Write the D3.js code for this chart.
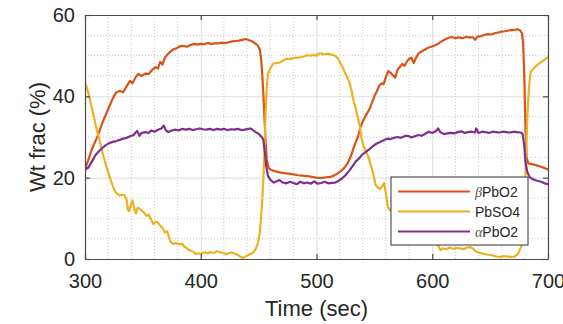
<!DOCTYPE html>
<html>
<head>
<meta charset="utf-8">
<script src="https://cdn.jsdelivr.net/npm/d3@7"></script>
<style>
  html, body { margin: 0; padding: 0; background: #fff; }
  svg { display: block; font-family: "Liberation Sans", Arial, Helvetica, sans-serif; }
</style>
</head>
<body>
<svg id="chart" width="563" height="324"></svg>
<script>
// Phase weight fractions (%) over time (sec)
const betaTime = [300,303,306,309,312,315,318,321,324,327,330,333,336,339,341,344,346,349,352,355,358,361,363,365,367,369,371,373,376,379,382,385,388,391,394,397,400,403,406,409,412,415,418,421,424,427,430,433,436,439,442,445,447,449,451,452,453,454,455,456,457,458.5,460,464,468,472,476,480,484,488,492,496,500,504,508,512,515,518,521,524,527,530,532,534,536,538,540,542,544,546,548,550,552,554,556,558,560,562,564,566,568,570,572,574,576,578,580,582,584,586,588,590,593,596,599,602,605,608,611,614,617,620,623,626,629,632,635,637,639,642,645,648,651,654,657,660,663,666,669,672,674,676,677.5,678.5,679.5,680.5,681.5,683,688,694,700];
const betaPbO2 = [22.0,24.5,27,29,31,33.5,35.5,37.5,39.5,41,41.3,41,42.5,43.8,43.2,44.8,45.5,45,45.6,45.5,46.5,47.2,46.8,48.5,47.8,49.5,50.2,50.8,51.5,51.8,52.3,52.4,52.2,52.6,52.9,52.7,52.9,52.8,53.1,52.9,53.0,53.0,53.2,53.1,53.3,53.5,53.6,53.7,53.9,54.1,53.8,53.4,53.0,52.6,51.5,49.5,46,41,35,29,24.5,22.5,22.0,21.6,21.3,21.1,21.0,20.8,20.6,20.5,20.4,20.2,20.0,19.9,20.1,20.2,20.5,21.0,21.6,22.4,23.6,25.5,27.3,28.8,30.2,32.5,33.8,35,36,37,38.5,40,41.2,42.5,43.2,43,44.8,46.2,45.8,45.2,44.6,46.5,47.2,48,47.5,48.5,49.2,49.5,48.2,49.5,50.5,50.9,51.4,51.9,52.2,52.5,52.9,53.5,54.0,54.4,54.6,54.3,54.5,54.3,54.6,54.5,54.5,53.9,54.7,54.8,55.1,55.3,55.2,55.5,55.7,55.9,56.0,56.2,56.3,56.4,56.5,56.2,55.5,53,45,33,25,23.5,23.2,22.7,22.0];

const sulfTime = [300,302,304,306,308,310,312,314,316,318,320,322,324,326,328,330,332,334,336,337,338,339.5,341,342.5,344,345.5,347,349,351,353,355,357,359,361,363,365,367,369,371,372.5,374,376,378,380,382,384,386,388,390,392,394,396,398,400,402,404,406,408,410,412,414,416,418,420,422,424,426,428,430,432,434,436,438,440,442,444,446,448,449.5,451,452,453,454,455,456,457,458,460,462.5,465,468,471,474,477,480,483,486,489,492,495,497,500,502,504,506,508,510,512,514,516,518,520,522,524,526,528,530,532,534,536,537.5,539,541,543,545,547,549,551,553,555,557,558.5,560,561.5,563,566,570,574,578,582,586,590,594,598,602,605,607,609,612,615,618,621,624,627,630,633,635,637,639,641,644,647,650,653,656,659,662,665,668,671,674,676,677.5,679,680,681,682,683.5,685,688,691,694,697,700];
const PbSO4 = [43.3,41.8,39.5,37,34.5,32,29.8,27.5,25.2,23.2,21.3,19.6,18.0,16.6,16.0,15.6,15.8,15.7,14.5,12.2,11.8,13.2,14.4,12.5,11.2,12.6,12.4,11.9,11.4,10.6,10.9,9.8,8.6,9.2,8.9,8.2,7.6,6.5,6.8,5.4,4.2,3.7,3.9,3.8,3.6,3.7,3.0,2.6,2.2,2.0,1.7,1.2,1.4,1.3,1.5,1.6,1.4,1.7,1.5,1.6,1.9,1.7,1.6,1.4,1.2,1.4,1.6,1.5,1.2,1.0,0.6,0.3,0.5,0.8,1.1,1.4,1.8,2.8,4,6.5,9.8,14,19,26,36,42,45.5,46.8,48,48.2,48.3,48.8,49.2,49.2,49.4,49.5,49.6,49.8,50.1,50.0,50.2,50.0,50.5,50.6,50.3,50.4,50.5,50.3,50.2,50.0,49.5,48.5,47.5,46.2,45,43.8,41.8,38.9,36.8,34.5,32.5,29.5,27.5,26.2,25.0,23,21,18.2,17.6,17.2,18.0,18.7,16,13,12.2,11.5,10.6,9.5,8.5,7.6,6.8,5.9,5.1,4.5,3.9,3.4,2.2,2.6,2.4,2.8,2.5,2.7,2.6,2.4,2.8,2.9,2.6,2.0,1.7,1.5,1.3,1.1,1.0,0.8,0.6,0.5,0.7,0.6,0.5,0.6,1.2,2.5,3.5,8,15,25,34,42,46,47,47.8,48.4,49.0,49.7];

const alphaTime = [300,303,306,309,312,315,318,321,324,327,330,333,336,339,342,345,347,349,352,355,357,360,363,366,368,370,372,375,378,381,384,387,390,393,396,399,402,405,408,411,414,417,420,423,426,429,432,435,438,441,443,445,447.5,450,452,454,455.5,456.5,458,460,463,466,468,471,474,477,480,483,486,489,492,495,498,501,504,507,510,513,516,519,522,525,528,531,534,537,540,543,546,549,552,555,558,561,564,567,570,573,576,579,582,585,588,591,594,597,600,603,605,607,610,613,616,619,622,625,628,631,634,637,638,640,643,646,649,652,655,658,661,664,667,670,673,676,678,679.5,680.5,682,684,687,690,694,697,700];
const alphaPbO2 = [22.0,22.5,24,25.5,26.5,27.3,28,28.5,28.8,29,29.3,29.6,29.8,30.2,30.5,31.5,30.3,31,31.2,31,31.6,31.3,31.8,32.1,32.8,31.6,31.2,31.6,31.8,31.6,32,31.8,32.0,31.7,31.9,32.1,31.9,31.8,32.0,31.7,32.0,31.8,32.0,31.7,31.9,31.8,32.0,31.7,31.8,32.0,32.1,31.7,31.2,30.8,30.2,29.4,26,23,20.5,19.5,18.8,19.2,19.4,18.8,18.6,19,18.7,18.4,19,18.6,18.8,18.5,19.1,18.5,18.7,19,18.6,18.7,18.8,19.2,19.8,20.6,21.6,22.8,24,24.8,25.8,26.4,27.1,27.8,28.4,28.8,29.2,29.6,29.5,29.8,30.0,29.8,30.2,30.3,29.9,30.2,30.5,30.3,30.8,31.3,31.0,31.4,32.1,31.2,30.7,30.9,31.0,30.9,31.2,31.4,31,31.2,31.3,31.1,32.1,31,31.3,31.2,31.0,31.3,31.2,31.1,31.3,31.2,31.1,31.3,31.2,31.1,30.8,28,24,21.5,20.2,19.6,19.3,19.0,18.6,18.4];

const seriesNames = ["\u03B2PbO2", "PbSO4", "\u03B1PbO2"];
const seriesColors = ["#D95319", "#EDB120", "#7E2F8E"];
const xTicks = [300, 400, 500, 600, 700];
const yTicks = [0, 20, 40, 60];
const xLabel = "Time (sec)";
const yLabel = "Wt frac (%)";

const series = [
  { name: seriesNames[0], color: seriesColors[0], t: betaTime, v: betaPbO2 },
  { name: seriesNames[1], color: seriesColors[1], t: sulfTime, v: PbSO4 },
  { name: seriesNames[2], color: seriesColors[2], t: alphaTime, v: alphaPbO2 }
];

const svg = d3.select("#chart");
const L = 85, R = 548, T = 15, B = 259;
const x = d3.scaleLinear().domain([300, 700]).range([L, R]);
const y = d3.scaleLinear().domain([0, 60]).range([B, T]);

// minor grid (dotted)
const minorX = d3.range(300, 701, 20).filter(d => d % 100 !== 0);
const minorY = d3.range(0, 61, 5).filter(d => d % 20 !== 0);
const grid = svg.append("g");
grid.selectAll(".mx").data(minorX).join("line")
  .attr("x1", d => x(d)).attr("x2", d => x(d)).attr("y1", T).attr("y2", B)
  .attr("stroke", "#c8c8c8").attr("stroke-width", 1).attr("stroke-dasharray", "1,2");
grid.selectAll(".my").data(minorY).join("line")
  .attr("x1", L).attr("x2", R).attr("y1", d => y(d)).attr("y2", d => y(d))
  .attr("stroke", "#c8c8c8").attr("stroke-width", 1).attr("stroke-dasharray", "1,2");
// major grid
grid.append("g").attr("transform", `translate(0,${B})`)
  .call(d3.axisBottom(x).tickValues(xTicks).tickSize(-(B - T)).tickFormat(""))
  .call(g => g.select(".domain").remove())
  .selectAll("line").attr("stroke", "#dcdcdc").attr("stroke-width", 1);
grid.append("g").attr("transform", `translate(${L},0)`)
  .call(d3.axisLeft(y).tickValues(yTicks).tickSize(-(R - L)).tickFormat(""))
  .call(g => g.select(".domain").remove())
  .selectAll("line").attr("stroke", "#dcdcdc").attr("stroke-width", 1);

// data lines
svg.append("clipPath").attr("id", "plotClip")
  .append("rect").attr("x", L).attr("y", T).attr("width", R - L).attr("height", B - T);
const line = d3.line().x(d => x(d[0])).y(d => y(d[1]));
svg.append("g").attr("clip-path", "url(#plotClip)")
  .selectAll("path").data(series).join("path")
  .attr("d", s => line(s.t.map((t, i) => [t, s.v[i]])))
  .attr("fill", "none").attr("stroke", s => s.color)
  .attr("stroke-width", 2.2).attr("stroke-linejoin", "round");

// axes box with inward ticks
const tickLen = 5;
const axisColor = "#4a4a4a";
function styleAxis(g) {
  g.select(".domain").attr("stroke", axisColor).attr("stroke-width", 1.2);
  g.selectAll(".tick line").attr("stroke", axisColor).attr("stroke-width", 1.2);
  g.selectAll(".tick text").attr("fill", "#262626")
    .style("font-size", "20px").style("font-family", "\"Liberation Sans\", Arial, sans-serif");
}
svg.append("g").attr("transform", `translate(0,${B})`)
  .call(d3.axisBottom(x).tickValues(xTicks).tickSizeInner(-tickLen).tickSizeOuter(0).tickPadding(15))
  .call(styleAxis);
svg.append("g").attr("transform", `translate(0,${T})`)
  .call(d3.axisTop(x).tickValues(xTicks).tickSizeInner(-tickLen).tickSizeOuter(0).tickFormat(""))
  .call(styleAxis);
svg.append("g").attr("transform", `translate(${L},0)`)
  .call(d3.axisLeft(y).tickValues(yTicks).tickSizeInner(-tickLen).tickSizeOuter(0).tickPadding(10))
  .call(styleAxis);
svg.append("g").attr("transform", `translate(${R},0)`)
  .call(d3.axisRight(y).tickValues(yTicks).tickSizeInner(-tickLen).tickSizeOuter(0).tickFormat(""))
  .call(styleAxis);

// axis labels
svg.append("text").attr("x", (L + R) / 2).attr("y", 316)
  .attr("text-anchor", "middle").attr("fill", "#262626").style("font-size", "22px")
  .text(xLabel);
svg.append("text").attr("transform", `translate(45,${(T + B) / 2}) rotate(-90)`)
  .attr("text-anchor", "middle").attr("fill", "#262626").style("font-size", "22px")
  .text(yLabel);

// legend
const lg = svg.append("g");
lg.append("rect").attr("x", 391).attr("y", 177).attr("width", 137).attr("height", 68)
  .attr("fill", "#fff").attr("stroke", "#333").attr("stroke-width", 1);
const rowY = d3.scaleLinear().domain([0, 2]).range([191.5, 231.5]);
const rows = lg.selectAll(".row").data(series).join("g")
  .attr("transform", (d, i) => `translate(0,${rowY(i)})`);
rows.append("line").attr("x1", 398).attr("x2", 470).attr("y1", 0).attr("y2", 0)
  .attr("stroke", d => d.color).attr("stroke-width", 2.2);
rows.append("text").attr("x", 475).attr("y", 0).attr("dy", "0.36em")
  .attr("fill", "#262626").style("font-size", "14px")
  .each(function(d) {
    const t = d3.select(this);
    const first = d.name[0];
    if (first === "\u03B2" || first === "\u03B1") {
      t.append("tspan").style("font-family", "\"Liberation Serif\", serif")
        .style("font-style", "italic").attr("fill", "#555").text(first);
      t.append("tspan").text(d.name.slice(1));
    } else {
      t.text(d.name);
    }
  });
</script>
</body>
</html>
